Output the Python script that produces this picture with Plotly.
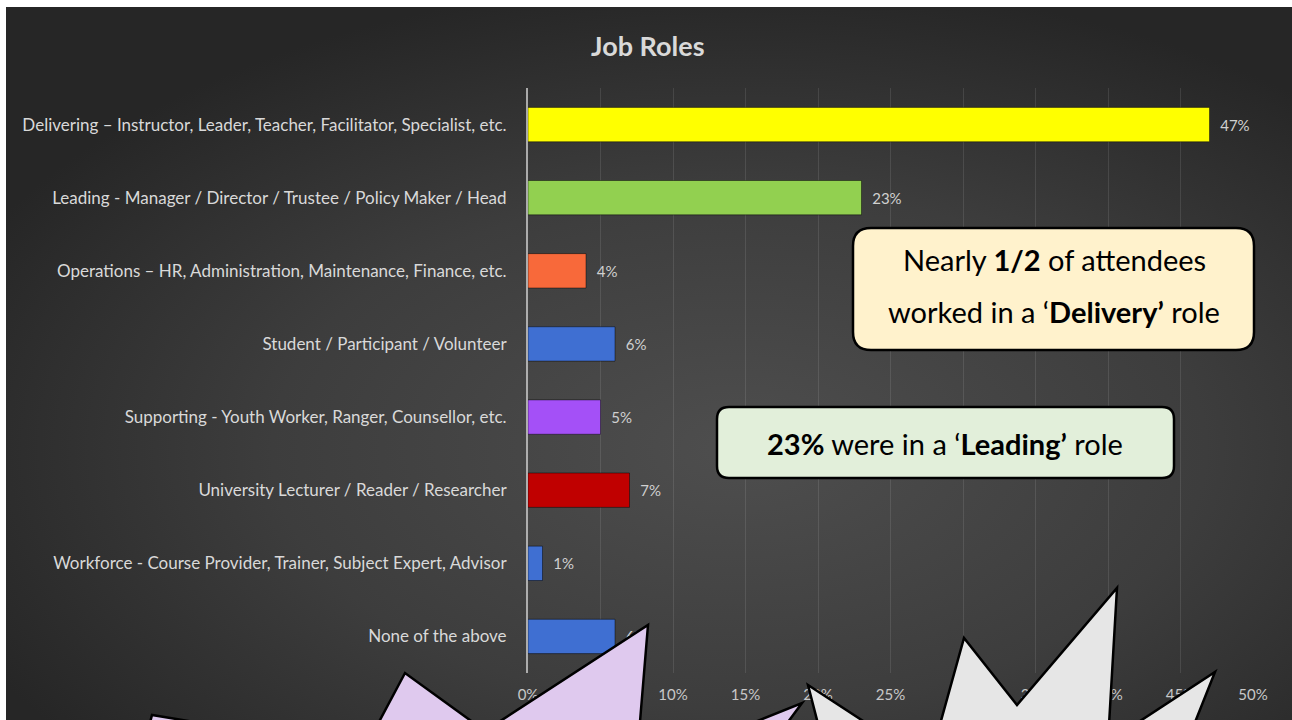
import base64
import plotly.graph_objects as go

# ---- data -------------------------------------------------------------
categories = [
    "Delivering – Instructor, Leader, Teacher, Facilitator, Specialist, etc.",
    "Leading - Manager / Director / Trustee / Policy Maker / Head",
    "Operations – HR, Administration, Maintenance, Finance, etc.",
    "Student / Participant / Volunteer",
    "Supporting - Youth Worker, Ranger, Counsellor, etc.",
    "University Lecturer / Reader / Researcher",
    "Workforce - Course Provider, Trainer, Subject Expert, Advisor",
    "None of the above",
]
values = [47, 23, 4, 6, 5, 7, 1, 6]
bar_colors = ["#FFFF00", "#92D050", "#F8693A", "#3F6FD2",
              "#A450F7", "#C00000", "#3F6FD2", "#3F6FD2"]
x_ticks = [0, 5, 10, 15, 20, 25, 30, 35, 40, 45, 50]

# ---- canvas helpers (pixel -> paper) -----------------------------------
W, H = 1292, 720


def px(x):
    return x / W


def py(y):
    return 1 - y / H


def poly_path(points):
    parts = [f"{'M' if i == 0 else 'L'} {px(x):.5f},{py(y):.5f}"
             for i, (x, y) in enumerate(points)]
    return " ".join(parts) + " Z"


def rounded_rect(x0, y0, x1, y1, r):
    return (
        f"M {px(x0 + r)},{py(y0)} L {px(x1 - r)},{py(y0)} "
        f"Q {px(x1)},{py(y0)} {px(x1)},{py(y0 + r)} "
        f"L {px(x1)},{py(y1 - r)} Q {px(x1)},{py(y1)} {px(x1 - r)},{py(y1)} "
        f"L {px(x0 + r)},{py(y1)} Q {px(x0)},{py(y1)} {px(x0)},{py(y1 - r)} "
        f"L {px(x0)},{py(y0 + r)} Q {px(x0)},{py(y0)} {px(x0 + r)},{py(y0)} Z"
    )


# dark radial-gradient chart background
bg_svg = (
    "<svg xmlns='http://www.w3.org/2000/svg' width='1286' height='713' "
    "viewBox='0 0 1286 713' preserveAspectRatio='none'>"
    "<defs><radialGradient id='g' cx='0.57' cy='0.62' r='0.66'>"
    "<stop offset='0' stop-color='#4e4e4e'/>"
    "<stop offset='0.55' stop-color='#3d3d3d'/>"
    "<stop offset='1' stop-color='#262626'/>"
    "</radialGradient></defs>"
    "<rect width='1286' height='713' fill='url(#g)'/></svg>"
)
bg_uri = "data:image/svg+xml;base64," + base64.b64encode(bg_svg.encode()).decode()

LABEL_FONT = "Lato, 'Open Sans', sans-serif"

fig = go.Figure(
    go.Bar(
        x=values,
        y=categories,
        orientation="h",
        width=0.47,
        marker=dict(color=bar_colors, line=dict(color="rgba(0,0,0,0.45)", width=1)),
        text=[f"\u00a0\u00a0{v}%" for v in values],
        textposition="outside",
        outsidetextfont=dict(family=LABEL_FONT, size=15, color="#d0d0d0"),
        constraintext="none",
        cliponaxis=False,
        hoverinfo="skip",
    )
)

fig.update_layout(
    width=W,
    height=H,
    margin=dict(l=0, r=0, t=0, b=0),
    paper_bgcolor="white",
    plot_bgcolor="rgba(0,0,0,0)",
    showlegend=False,
    xaxis=dict(
        domain=[px(528), px(1253)],
        range=[0, 50],
        tickvals=x_ticks,
        ticktext=[f"{t}%" for t in x_ticks],
        showgrid=True,
        gridcolor="rgba(255,255,255,0.10)",
        gridwidth=1,
        zeroline=False,
        showline=False,
        ticks="",
        ticklabelstandoff=11,
        tickfont=dict(family=LABEL_FONT, size=15, color="#c8c8c8"),
        automargin=False,
        fixedrange=True,
    ),
    yaxis=dict(
        domain=[py(673), py(88)],
        type="category",
        categoryorder="array",
        categoryarray=categories,
        autorange="reversed",
        showgrid=False,
        showline=True,
        linecolor="rgba(210,210,210,0.75)",
        linewidth=2,
        ticks="",
        ticklabelstandoff=16,
        tickfont=dict(family=LABEL_FONT, size=17, color="#d9d9d9"),
        automargin=False,
        fixedrange=True,
    ),
    images=[dict(
        source=bg_uri, xref="paper", yref="paper",
        x=px(6), y=py(7), sizex=px(1292) - px(6), sizey=py(7) - py(720),
        xanchor="left", yanchor="top", sizing="stretch", layer="below",
    )],
)

# title
fig.add_annotation(
    x=px(648), y=py(45), xref="paper", yref="paper",
    xanchor="center", yanchor="middle",
    text="<b>Job Roles</b>", showarrow=False,
    font=dict(family=LABEL_FONT, size=27, color="#d9d9d9"),
)

# callout boxes
fig.add_shape(type="path", xref="paper", yref="paper",
              path=rounded_rect(853, 228, 1254, 350, 18),
              fillcolor="#FFF2CC", line=dict(color="black", width=2.5), layer="above")
fig.add_shape(type="path", xref="paper", yref="paper",
              path=rounded_rect(717, 407, 1174, 478, 12),
              fillcolor="#E2EFDA", line=dict(color="black", width=2.5), layer="above")

CALLOUT_FONT = dict(family=LABEL_FONT, size=29, color="black")
for cx, cy, txt in [
    (1054, 259, "Nearly <b>1/2</b> of attendees"),
    (1054, 311, "worked in a ‘<b>Delivery’</b> role"),
    (945, 443, "<b>23%</b> were in a ‘<b>Leading’</b> role"),
]:
    fig.add_annotation(x=px(cx), y=py(cy), xref="paper", yref="paper",
                       xanchor="center", yanchor="middle", showarrow=False,
                       text=txt, font=CALLOUT_FONT)

# decorative starbursts along the bottom edge
purple_burst = [
    (140, 760), (152, 715), (364, 750), (405, 673), (485, 731), (648, 625),
    (636, 770), (802, 703), (760, 760), (720, 820), (140, 820),
]
grey_burst = [
    (822, 780), (817, 720), (808, 685), (929, 764), (964, 638), (1017, 705),
    (1117, 588), (1108, 742), (1215, 672), (1180, 760), (1180, 820), (822, 820),
]
fig.add_shape(type="path", xref="paper", yref="paper", path=poly_path(purple_burst),
              fillcolor="#DFC9EE", line=dict(color="black", width=2.5), layer="above")
fig.add_shape(type="path", xref="paper", yref="paper", path=poly_path(grey_burst),
              fillcolor="#E6E6E6", line=dict(color="black", width=2.5), layer="above")

fig.write_html("out.html", config={"displayModeBar": False})
